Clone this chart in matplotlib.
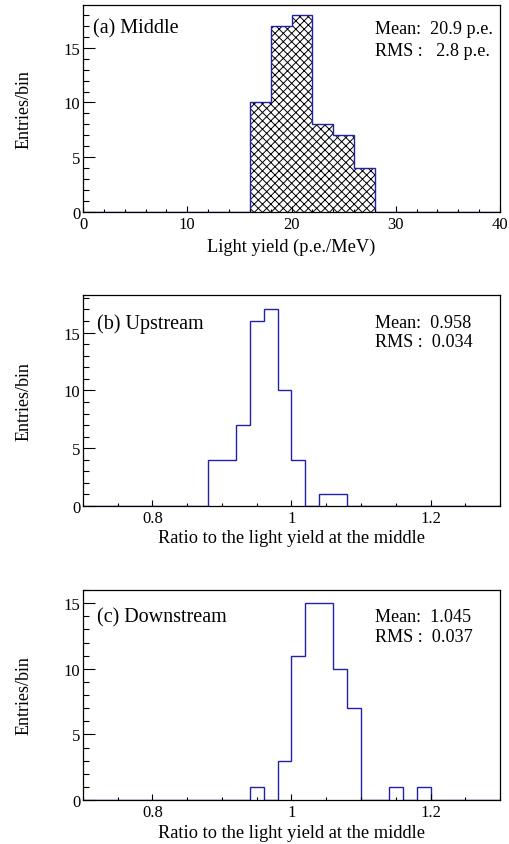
import numpy as np
import matplotlib
matplotlib.use("Agg")
import matplotlib.pyplot as plt
from matplotlib.ticker import MultipleLocator, FormatStrFormatter

plt.rcParams["font.family"] = ["Liberation Serif", "DejaVu Serif"]
plt.rcParams["hatch.linewidth"] = 0.7

# histogram contents (entries per bin)
mid_edges = np.arange(0, 40.001, 2)
mid_counts = [0, 0, 0, 0, 0, 0, 0, 0, 10, 17, 18, 8, 7, 4, 0, 0, 0, 0, 0, 0]

ratio_edges = np.linspace(0.7, 1.3, 31)
up_counts = [0, 0, 0, 0, 0, 0, 0, 0, 0, 4, 4, 7, 16, 17, 10,
             4, 0, 1, 1, 0, 0, 0, 0, 0, 0, 0, 0, 0, 0, 0]
down_counts = [0, 0, 0, 0, 0, 0, 0, 0, 0, 0, 0, 0, 1, 0, 3,
               11, 15, 15, 10, 7, 0, 0, 1, 0, 1, 0, 0, 0, 0, 0]

titles = ["(a) Middle", "(b) Upstream", "(c) Downstream"]
mean_txt = ["Mean:  20.9 p.e.", "Mean:  0.958", "Mean:  1.045"]
rms_txt = ["RMS :   2.8 p.e.", "RMS :  0.034", "RMS :  0.037"]
xlabels = ["Light yield (p.e./MeV)",
           "Ratio to the light yield at the middle",
           "Ratio to the light yield at the middle"]

blue = "#2222a8"

fig = plt.figure(figsize=(5.09, 8.45), dpi=100)
W, H = 509, 845
boxes = [(6, 213), (296, 507), (591, 801)]  # top, bottom in pixels
axes = []
for top, bot in boxes:
    axes.append(fig.add_axes([83 / W, 1 - bot / H, 417 / W, (bot - top) / H]))

panels = [
    (mid_edges, mid_counts, (0, 40), 18.9, 10, 2, "%d", -0.126),
    (ratio_edges, up_counts, (0.7, 1.3), 18.25, 0.2, 0.05, "%g", -0.109),
    (ratio_edges, down_counts, (0.7, 1.3), 16.0, 0.2, 0.05, "%g", -0.114),
]

for i, (ax, p) in enumerate(zip(axes, panels)):
    edges, counts, xr, ymax, xmaj, xmin, fmt, xlab_y = p
    if i == 0:
        ax.stairs(counts, edges, baseline=0, fill=True, facecolor="none",
                  edgecolor="black", hatch="xxxx", linewidth=0)
    ax.stairs(counts, edges, baseline=0, color=blue, linewidth=1.0)

    ax.set_xlim(*xr)
    ax.set_ylim(0, ymax)
    ax.xaxis.set_major_locator(MultipleLocator(xmaj))
    ax.xaxis.set_minor_locator(MultipleLocator(xmin))
    ax.xaxis.set_major_formatter(FormatStrFormatter(fmt))
    ax.yaxis.set_major_locator(MultipleLocator(5))
    ax.yaxis.set_minor_locator(MultipleLocator(1))

    ax.tick_params(axis="both", which="both", direction="in",
                   top=False, right=False, labelsize=12, width=0.8)
    ax.tick_params(axis="x", which="major", length=4.5, pad=3)
    ax.tick_params(axis="x", which="minor", length=2.3)
    ax.tick_params(axis="y", which="major", length=8.5, pad=2)
    ax.tick_params(axis="y", which="minor", length=4.5)
    for s in ax.spines.values():
        s.set_linewidth(0.9)

    ax.set_ylabel("Entries/bin", fontsize=13)
    ax.yaxis.set_label_coords(-0.121, 0.5)
    ax.set_xlabel(xlabels[i], fontsize=13.2)
    ax.xaxis.set_label_coords(0.5, xlab_y)

    top, bot = boxes[i]
    hgt = bot - top
    ty = (bot - [29, 324, 618][i]) / hgt
    ry = (bot - [52, 343, 638][i]) / hgt
    tx = [(93 - 83) / 417, (97 - 83) / 417, (97 - 83) / 417][i]
    ax.text(tx, ty, titles[i], transform=ax.transAxes, fontsize=14.5,
            ha="left", va="center")
    ax.text(0.70, ty, mean_txt[i], transform=ax.transAxes, fontsize=13.1,
            ha="left", va="center")
    ax.text(0.70, ry, rms_txt[i], transform=ax.transAxes, fontsize=13.1,
            ha="left", va="center")

fig.savefig("out.png", dpi=100)
